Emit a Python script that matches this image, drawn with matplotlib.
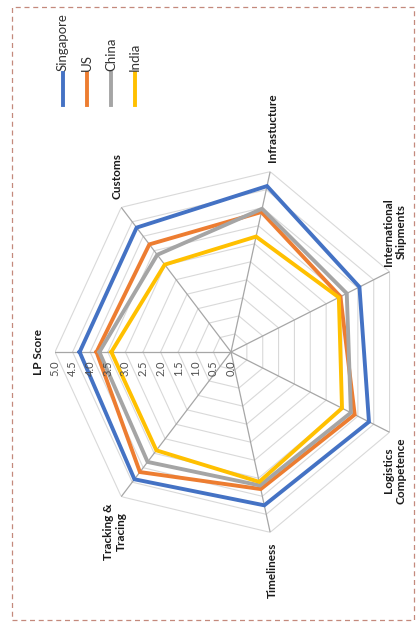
import numpy as np
import matplotlib.pyplot as plt
from matplotlib.lines import Line2D
from matplotlib.patches import Rectangle

plt.rcParams['font.family'] = ['Lato', 'DejaVu Sans']

categories = ['LP Score', 'Customs', 'Infrastucture', 'International\nShipments',
              'Logistics\nCompetence', 'Timeliness', 'Tracking &\nTracing']
singapore = [4.30, 4.30, 4.60, 4.05, 4.35, 4.25, 4.40]
us = [3.82, 3.72, 3.88, 3.45, 3.90, 3.80, 4.15]
china = [3.74, 3.36, 3.97, 3.65, 3.78, 3.70, 3.80]
india = [3.40, 3.02, 3.20, 3.40, 3.50, 3.60, 3.40]
series = ['Singapore', 'US', 'China', 'India']
colors = ['#4472C4', '#ED7D31', '#A5A5A5', '#FFC000']
ticks = np.arange(0, 5.01, 0.5)

n = len(categories)
angles = np.arange(n) * 2 * np.pi / n
closed = np.append(angles, angles[0])

fig = plt.figure(figsize=(4.16, 6.25), dpi=100)
ax = fig.add_axes([55 / 416, 88 / 625, 352 / 416, 370 / 625], projection='polar')
ax.set_aspect('auto')
ax.set_theta_offset(np.pi)
ax.set_theta_direction(-1)
ax.set_ylim(0, 5)
ax.grid(False)
ax.set_xticks([])
ax.set_yticks([])
ax.spines['polar'].set_visible(False)
ax.patch.set_alpha(0)

# polygon gridlines and spokes
for r in ticks[1:]:
    ax.plot(closed, [r] * (n + 1), color='#D9D9D9', lw=0.8, zorder=1)
for a in angles:
    ax.plot([a, a], [0, 5], color='#A6A6A6', lw=0.9, zorder=2)

for vals, c in zip([singapore, us, china, india], colors):
    ax.plot(closed, vals + vals[:1], color=c, lw=2.8, zorder=3, solid_joinstyle='miter')

# value labels along first spoke
for t in ticks:
    ax.annotate(f'{t:.1f}', xy=(0, t), xytext=(0, -16), textcoords='offset pixels',
                rotation=90, ha='center', va='center', fontsize=8, color='#505050')

# category labels
offsets = [(-17, 0), (-4, 31), (2, 44), (5, 40), (5, -38), (2, -38), (-6, -35)]
for a, lab, (dx, dy) in zip(angles, categories, offsets):
    ax.annotate(lab, xy=(a, 5), xytext=(dx, dy), textcoords='offset pixels',
                rotation=90, ha='center', va='center', fontsize=8.5, fontweight='bold',
                multialignment='center', color='#1a1a1a')

# legend (rotated)
for i, (name, c) in enumerate(zip(series, colors)):
    x = (63 + 24 * i) / 416
    fig.add_artist(Line2D([x, x], [1 - 105 / 625, 1 - 73 / 625], transform=fig.transFigure,
                          color=c, lw=2.8))
    fig.text(x, 1 - 71 / 625, name, rotation=90, ha='center', va='bottom',
             fontsize=9.5, color='#333333')

# dashed frame
fig.add_artist(Rectangle((12 / 416, 5 / 625), 402 / 416, 613 / 625, transform=fig.transFigure,
                         fill=False, ec='#C4897C', lw=0.9, ls=(0, (4, 3))))

fig.savefig('out.png', dpi=100)
